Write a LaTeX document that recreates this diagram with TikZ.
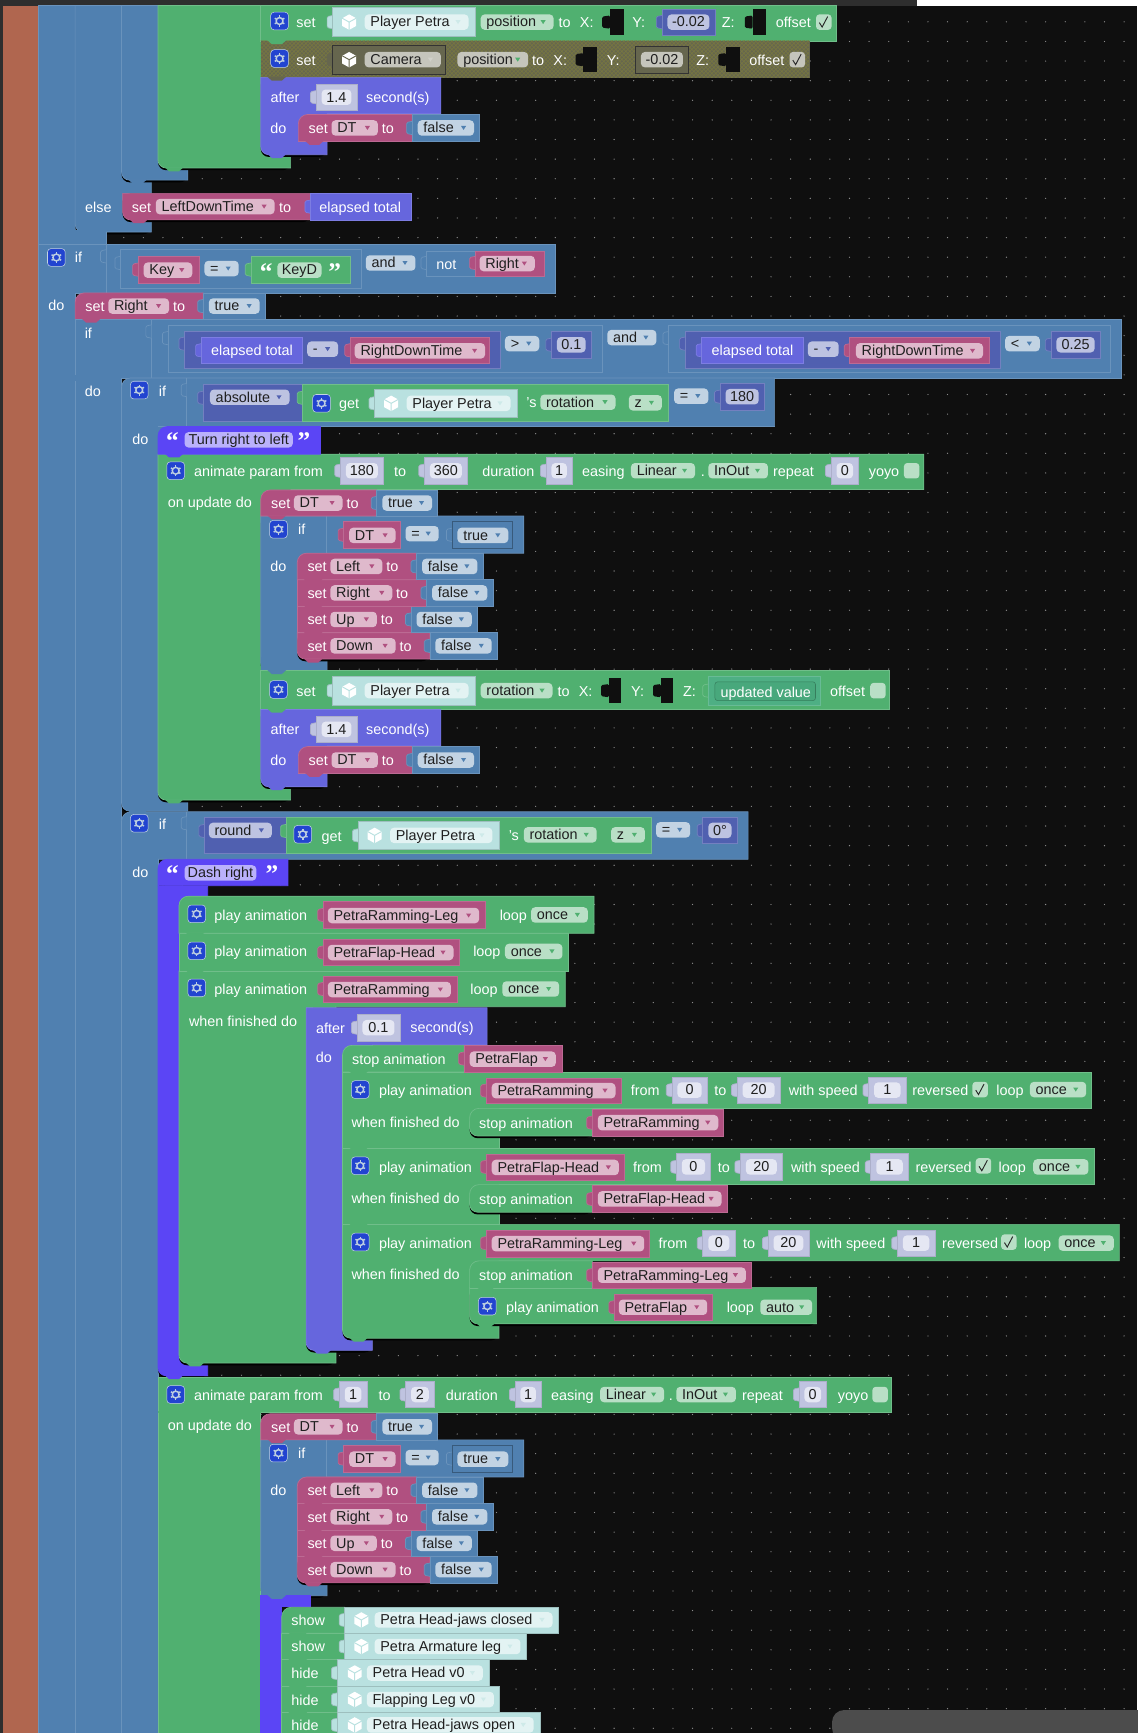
\documentclass[tikz,border=0pt]{standalone}
\usepackage{fontspec}
\setmainfont{Liberation Sans}
\newfontfamily\quotefont{Liberation Serif}
\usetikzlibrary{patterns}

\definecolor{bgblack}{HTML}{0F0F0F}
\definecolor{brickred}{HTML}{B0664F}
\definecolor{logicblue}{HTML}{5080B0}
\definecolor{loopgreen}{HTML}{50B070}
\definecolor{varpink}{HTML}{B05080}
\definecolor{timerpurple}{HTML}{6666DD}
\definecolor{noteviolet}{HTML}{5B45F5}
\definecolor{mathblue}{HTML}{5060B0}
\definecolor{objcyan}{HTML}{B9E1E0}
\definecolor{shadowlav}{HTML}{BFC3E0}
\definecolor{camolive}{HTML}{66664E}
\definecolor{gearblue}{HTML}{2244D0}

\newcommand{\blockfont}{\fontsize{10.8}{13}\selectfont}
\newcounter{nodeno}

\tikzset{
  logicb/.style={fill=logicblue,draw=logicblue!85!white,line width=.5pt},
  loopb/.style={fill=loopgreen,draw=loopgreen!82!white,line width=.5pt},
  varb/.style={fill=varpink,draw=varpink!85!white,line width=.5pt},
  timerb/.style={fill=timerpurple,draw=timerpurple!85!white,line width=.5pt},
  noteb/.style={fill=noteviolet,draw=noteviolet,line width=.5pt},
  mathb/.style={fill=mathblue,draw=mathblue!80!white,line width=.5pt},
  objb/.style={fill=objcyan,draw=objcyan!85!black,line width=.5pt},
  shadb/.style={fill=shadowlav,draw=shadowlav!90!black,line width=.5pt},
  camb/.style={fill=camolive,draw=camolive},
  logicf/.style={fill=logicblue!35!white},
  loopf/.style={fill=loopgreen!40!white},
  varf/.style={fill=varpink!40!white},
  objf/.style={fill=objcyan!40!white},
  shadf/.style={fill=shadowlav!40!white},
  mathf/.style={fill=mathblue!38!white},
  notef/.style={fill=noteviolet!42!white},
  camf/.style={fill=camolive!38!white},
  whitetxt/.style={text=white,inner sep=0pt,font=\blockfont,text height=9.2pt,text depth=1pt},
  fieldtxt/.style={text=black!88,inner sep=0pt,font=\blockfont,text height=8.6pt,text depth=1.4pt},
  gearbox/.style={fill=gearblue,draw=logicblue!35!white,line width=.4pt,rounded corners=2.5},
  gearring/.style={draw=logicblue!38!white,line width=1.1pt},
  seam/.style={draw=logicblue!85!white,line width=.5pt},
}

% blocks
\newcommand{\blk}[5]{\path[#1] (#2,#3) rectangle (#4,#5);}
\newcommand{\blktl}[5]{\path[#1] (#2,#5) [rounded corners=7] -- (#2,#3) [sharp corners] -- (#4,#3) -- (#4,#5) -- cycle;}
\newcommand{\blkbl}[5]{%
  \fill[black,rounded corners=6] (#2,#3) -- (#2,#5+2) -- (#4,#5+2) -- (#4,#3) -- cycle;
  \path[#1] (#4,#3) -- (#2,#3) [rounded corners=6] -- (#2,#5) [sharp corners] -- (#4,#5) -- cycle;}
% head x1..xr y1..ym, body x1..xb down to yb
\newcommand{\lshape}[7]{%
  \fill[black,rounded corners=6] (#2,#3) -- (#2,#7+2) -- (#6,#7+2) -- (#6,#3) -- cycle;
  \path[#1] (#2,#3) -- (#4,#3) -- (#4,#5) -- (#6,#5) -- (#6,#7) [rounded corners=6] -- (#2,#7) [sharp corners] -- cycle;}
\newcommand{\notch}[3]{\fill[#1,draw=none] (#2+6,#3-.6) -- (#2+10,#3+3) -- (#2+19,#3+3) -- (#2+23,#3-.6) -- cycle;}
\newcommand{\tabv}[3]{\path[#1,rounded corners=1] (#2,#3-6) -- (#2-5,#3-5) -- (#2-5,#3+5) -- (#2,#3+6);}
% fields and texts
\newcommand{\txt}[3]{\stepcounter{nodeno}\node[whitetxt,name=n\thenodeno] at (#1,#2) {#3};}
\newcommand{\qmark}[3]{\stepcounter{nodeno}\node[text=white,inner sep=0pt,font=\quotefont\bfseries\fontsize{19}{19}\selectfont,name=n\thenodeno] at (#1,#2+3) {#3};}
\newcommand{\fld}[6]{%
  \path[#1,rounded corners=3] (#3,#5-7) rectangle (#4,#5+7);
  \stepcounter{nodeno}\node[fieldtxt,anchor=west,name=n\thenodeno] at (#3+5,#5) {#6};
  \fill[#2] (#4-11.8,#5-1.8) -- (#4-7.2,#5-1.8) -- (#4-9.5,#5+1.8) -- cycle;}
\newcommand{\fldc}[5]{%
  \path[#1,rounded corners=3] (#2,#4-7) rectangle (#3,#4+7);
  \stepcounter{nodeno}\node[fieldtxt,name=n\thenodeno] at ({(#2+#3)/2},#4) {#5};}
\newcommand{\num}[4]{\tabv{shadb}{#1}{#3}\blk{shadb}{#1}{#3-12}{#2}{#3+12}\fldc{shadf}{#1+5}{#2-5}{#3}{#4}}
\newcommand{\numd}[4]{\tabv{mathb}{#1}{#3}\blk{mathb}{#1}{#3-12}{#2}{#3+12}\fldc{mathf}{#1+5}{#2-5}{#3}{#4}}
\newcommand{\gear}[2]{%
  \path[gearbox] (#1-8,#2-8) rectangle (#1+8,#2+8);
  \draw[gearring] (#1,#2) circle (3.1);
  \foreach \a in {30,90,...,330} \draw[gearring] ([shift={(\a:3.4)}]#1,#2) -- ([shift={(\a:5)}]#1,#2);}
\newcommand{\cube}[3]{%
  \fill[white] (#1,#2-7) -- (#1+6.3,#2-3.5) -- (#1+6.3,#2+3.5) -- (#1,#2+7) -- (#1-6.3,#2+3.5) -- (#1-6.3,#2-3.5) -- cycle;
  \draw[#3,line width=.7pt] (#1-6.3,#2-3.5) -- (#1,#2) -- (#1+6.3,#2-3.5) (#1,#2) -- (#1,#2+7);}
\newcommand{\obj}[4]{\tabv{objb}{#1}{#3}\blk{objb}{#1}{#3-13}{#2}{#3+13}\cube{#1+15}{#3}{objcyan}\fld{objf}{objcyan!70!white}{#1+29}{#2-6}{#3}{#4}}
\newcommand{\hole}[3]{\fill[bgblack,rounded corners=1] (#1+7,#3-6) -- (#1,#3-5) -- (#1,#3+5) -- (#1+7,#3+6) -- cycle;\fill[bgblack] (#1+7,#3-11.5) rectangle (#2,#3+11.5);}
\newcommand{\chk}[3]{\path[#3,rounded corners=2.5] (#1-7,#2-7) rectangle (#1+7,#2+7);}
\newcommand{\tick}[2]{\draw[black!85,line width=.7pt] (#1-4,#2+.5) -- (#1-1.5,#2+4.5) -- (#1+3.5,#2-5);}
% set VAR to BOOL: x1, x2, x3, y1, y2
\newcommand{\setvar}[8][\blk]{%
  \pgfmathsetmacro{\ymid}{(#5+#6)/2}
  #1{varb}{#2}{#5}{#3}{#6}
  \tabv{logicb}{#3}{\ymid}\blk{logicb}{#3}{#5}{#4}{#6}
  \txt{#2+18}{\ymid}{set}\fld{varf}{varpink}{#2+30}{#3-31}{\ymid}{#7}\txt{#3-22}{\ymid}{to}
  \fld{logicf}{logicblue}{#3+5}{#4-5}{\ymid}{#8}}
% the four resets below an "if DT"
\newcommand{\resetrows}[1]{%
  \setvar[\blkbl]{269}{389}{450}{#1+72}{#1+95.8}{Down}{false}
  \setvar{269}{372}{432}{#1+48}{#1+72}{Up}{false}
  \setvar{269}{386}{446}{#1+24}{#1+48}{Right}{false}
  \setvar[\blktl]{269}{377}{437}{#1}{#1+24}{Left}{false}
  \notch{varb}{269}{#1+24}\notch{varb}{269}{#1+48}\notch{varb}{269}{#1+72}\notch{varb}{269}{#1+96}}
% if DT = true
\newcommand{\ifdt}[2]{%
  \lshape{logicb}{236}{#1}{474}{#1+33.6}{296}{#2}
  \fill[logicblue] (236,#2-12) rectangle (250,#2);
  \gear{252}{#1+12}\txt{273}{#1+12}{if}
  \draw[seam] (295,#1) -- (295,#1+33.6);
  \tabv{varb}{311}{#1+17}\blk{varb}{311}{#1+5}{362}{#1+29}\fld{varf}{varpink}{316}{358}{#1+17.5}{DT}
  \fld{logicf}{logicblue}{367}{397}{#1+16}{=}
  \tabv{logicb}{409}{#1+17}\path[logicb,draw=logicblue!70!black] (409,#1+5) rectangle (464,#1+29);\fld{logicf}{logicblue}{414}{460}{#1+17.5}{true}
  \txt{252}{#1+45}{do}}
% after N second(s) do set DT to false
\newcommand{\afterdt}[1]{%
  \lshape{timerb}{236}{#1}{399}{#1+33}{296}{#1+70}
  \txt{258}{#1+18}{after}\num{286}{323}{#1+18}{1.4}\txt{360}{#1+18}{second(s)}\txt{252}{#1+46}{do}
  \setvar[\blktl]{270}{373}{434}{#1+33.6}{#1+58}{DT}{false}
  \notch{varb}{270}{#1+58}\notch{timerb}{236}{#1+70}}

\begin{document}
\begin{tikzpicture}[x=0.829pt,y=0.829pt,yscale=-1,xscale=1]
\useasboundingbox (0,0) rectangle (1029,1568.3);
\fill[bgblack] (0,0) rectangle (1029,1568.3);
\foreach \i in {0,...,57} \foreach \j in {0,...,88}
  \fill[white!55!black] ({5.5+17.75*\i},{2+17.75*\j}) circle (.6);
\fill[black!82] (0,0) rectangle (830,5);
\fill[white] (830,0) rectangle (1029,5);
\fill[black!82] (0,5) rectangle (3,1568.3);
\fill[brickred] (3,5) rectangle (35,1568.3);

% outer columns
\blk{logicb}{35}{5}{68}{1568.3}
\blkbl{logicb}{68}{5}{137}{210}
\blk{logicb}{68}{212}{96}{222}
\fill[logicblue] (68.3,208) rectangle (96,222);
\blk{logicb}{68}{289}{110}{1568.3}
\blkbl{logicb}{110}{5}{170}{163}
\blkbl{loopb}{143}{5}{263}{152}
\notch{logicb}{110}{163}\notch{logicb}{68}{210}\notch{loopb}{143}{152}

% set position rows
\fill[mathblue] (249,5) -- (253,8) -- (261,8) -- (265,5) -- cycle;
\blk{loopb}{236}{5}{757}{37}
\gear{253}{19}\txt{277}{20}{set}
\obj{301}{430}{20}{Player Petra}
\fld{loopf}{loopgreen}{435}{501}{20}{position}
\txt{511}{20}{to}\txt{531}{20}{X:}\hole{545}{565}{20}
\txt{578}{20}{Y:}\numd{599}{647}{20}{-0.02}
\txt{659}{20}{Z:}\hole{674}{693}{20}
\txt{718}{20}{offset}\chk{745.5}{20}{loopf}\tick{745.5}{20}

\blk{camb}{236}{37}{732}{70}
\path[pattern=crosshatch,pattern color=yellow!30!black!75] (236,37) rectangle (732,70);
\notch{loopb}{236}{37}
\gear{253}{53}\txt{277}{54}{set}
\tabv{camb}{301}{54}\path[draw=black!80,fill=camolive] (301,41) rectangle (403,67);
\cube{316}{54}{camolive}\fld{camf}{camolive!30!white}{330}{399}{54}{Camera}
\fld{camf}{loopgreen}{414}{478}{54}{position}
\txt{487}{54}{to}\txt{507}{54}{X:}\hole{521}{540}{54}
\txt{555}{54}{Y:}\path[draw=black!80,fill=camolive] (575,42) rectangle (623,66);\fldc{camf}{580}{618}{54}{-0.02}
\txt{636}{54}{Z:}\hole{650}{670}{54}
\txt{694}{54}{offset}\chk{721.5}{54}{camf}\tick{721.5}{54}
\afterdt{70}
\notch{camb}{236}{70}

% else
\txt{89}{187}{else}
\blkbl{varb}{111}{175}{281}{199}
\txt{128}{187}{set}\fld{varf}{varpink}{141}{248.5}{187}{LeftDownTime}\txt{258}{187}{to}
\tabv{timerb}{281}{187}\blk{timerb}{281}{175}{372}{199}\txt{326}{187}{elapsed total}
\notch{varb}{111}{199}

% if key D
\blk{logicb}{35}{221}{503}{265}
\fill[logicblue] (35.3,262) rectangle (67.7,268);
\gear{51}{233}\txt{71}{233}{if}
\draw[seam] (96,210) -- (96,265);
\tabv{logicb}{96}{232}
\tabv{logicb}{109}{238}\blk{logicb}{109}{226}{327}{261}
\tabv{varb}{125}{244}\blk{varb}{125}{232}{180}{256}\fld{varf}{varpink}{130}{174}{244.5}{Key}
\fld{logicf}{logicblue}{185}{216}{243}{=}
\tabv{loopb}{227}{244}\blk{loopb}{227}{232}{317}{256}\qmark{241}{243}{“}\fldc{loopf}{251}{291}{244.5}{KeyD}\qmark{303}{243}{”}
\fld{logicf}{logicblue}{331}{376}{238}{and}
\tabv{logicb}{386}{238}\blk{logicb}{386}{227}{430}{250}\txt{404}{239}{not}
\tabv{varb}{430}{238}\blk{varb}{430}{227}{493}{250}\fld{varf}{varpink}{434}{484}{238.5}{Right}

\txt{51}{276}{do}
\setvar[\blktl]{68}{184}{240}{265}{289}{Right}{true}

% if else time check
\blk{logicb}{68}{289}{1015}{342}
\fill[logicblue] (68.3,339) rectangle (109.7,345);
\notch{varb}{68}{289}
\txt{80}{301}{if}
\draw[seam] (137,289) -- (137,342);
\tabv{logicb}{137}{300}
\tabv{logicb}{152}{306}\blk{logicb}{152}{294}{545}{337}
\tabv{mathb}{167}{311}\blk{mathb}{167}{299.5}{453}{333}
\tabv{timerb}{182}{317}\blk{timerb}{182}{305}{274}{329}\txt{228}{317}{elapsed total}
\fld{mathf}{mathblue}{278}{306}{316}{-}
\tabv{varb}{317}{317}\blk{varb}{317}{305}{443}{329}\fld{varf}{varpink}{321}{439}{317.5}{RightDownTime}
\fld{logicf}{logicblue}{457}{488}{311}{>}
\numd{499}{535}{312}{0.1}
\fld{logicf}{logicblue}{549.6}{594}{305.5}{and}
\tabv{logicb}{605}{306}\blk{logicb}{605}{294}{1004.6}{337}
\tabv{mathb}{620}{311}\blk{mathb}{620}{299.5}{905}{333}
\tabv{timerb}{635}{317}\blk{timerb}{635}{305}{727}{329}\txt{681}{317}{elapsed total}
\fld{mathf}{mathblue}{731}{759}{316}{-}
\tabv{varb}{769}{317}\blk{varb}{769}{305}{895}{329}\fld{varf}{varpink}{774.6}{889.6}{317.5}{RightDownTime}
\fld{logicf}{logicblue}{909.6}{941}{311}{<}
\numd{951}{995.6}{312}{0.25}

\txt{84}{354}{do}
\blkbl{logicb}{110}{350}{170}{734}
\blktl{logicb}{110}{342}{701}{386}
\fill[logicblue] (110.3,383) rectangle (142.7,389);
\gear{126}{353}\txt{147}{354}{if}
\draw[seam] (169,342) -- (169,386);
\tabv{logicb}{169}{353}
\tabv{mathb}{184}{360}\blk{mathb}{184}{347.5}{274}{381}\fld{mathf}{mathblue}{190}{262}{359.5}{absolute}
\tabv{loopb}{274}{360}\blk{loopb}{274}{347.5}{605}{381}
\gear{291}{365}\txt{316}{365}{get}\obj{339}{468}{365}{Player Petra}\txt{481}{364}{'s}
\fld{loopf}{loopgreen}{489}{557}{364}{rotation}\fld{loopf}{loopgreen}{569}{599}{364.5}{z}
\fld{logicf}{logicblue}{610}{641}{358.5}{=}
\numd{651.6}{691.6}{359}{180}

% turn right to left
\txt{127}{397}{do}
\lshape{loopb}{143}{411}{836}{443}{263}{724}
\blktl{noteb}{143}{386}{290}{411}
\qmark{156}{396}{“}\fldc{notef}{167}{265}{398}{Turn right to left}\qmark{275}{396}{”}
\notch{noteb}{143}{411}
\gear{159}{426}\txt{234}{426}{animate param from}
\num{308}{347}{426}{180}\txt{362}{426}{to}\num{384}{423}{426}{360}\txt{460}{426}{duration}\num{494}{518}{426}{1}
\txt{546}{426}{easing}\fld{loopf}{loopgreen}{571}{629}{426}{Linear}\txt{636}{426}{.}\fld{loopf}{loopgreen}{641}{695}{426}{InOut}
\txt{718}{426}{repeat}\num{752}{777}{426}{0}\txt{800}{426}{yoyo}\chk{825}{426}{loopf}
\txt{190}{454}{on update do}
\ifdt{467}{607}
\setvar[\blktl]{236}{341}{396}{443.4}{467}{DT}{true}
\notch{varb}{236}{467}
\resetrows{500.6}
\blk{loopb}{236}{607}{805}{642}
\notch{logicb}{236}{607}
\gear{252}{624}\txt{277}{625}{set}\obj{301}{430}{625}{Player Petra}
\fld{loopf}{loopgreen}{435}{500}{625}{rotation}\txt{510}{625}{to}\txt{530}{625}{X:}\hole{544}{562}{625}\txt{577}{625}{Y:}\hole{591}{609}{625}\txt{624}{625}{Z:}
\definecolor{updatedfill}{HTML}{4EAF84}\definecolor{updatedfield}{HTML}{48A87C}
\tabv{loopb}{641}{625}\path[fill=updatedfill,draw=updatedfill!85!white,line width=.5pt] (641,612) rectangle (742,638);\path[fill=updatedfield,draw=updatedfield!75!black,line width=.4pt,rounded corners=2] (647,617) rectangle (738,634);\txt{693}{626}{updated value}
\txt{767}{625}{offset}\chk{794.5}{625}{loopf}
\afterdt{642}
\notch{loopb}{236}{642}\notch{loopb}{143}{724}\notch{logicb}{110}{734}

% dash right
\blk{logicb}{110}{760}{143}{1568.3}
\blktl{logicb}{110}{734.6}{677}{777.6}
\fill[logicblue] (110.3,775) rectangle (142.7,780);
\notch{logicb}{110}{734}
\gear{126}{745}\txt{147}{746}{if}
\draw[seam] (169,734.6) -- (169,777.6);
\tabv{logicb}{169}{745}
\tabv{mathb}{185}{752}\blk{mathb}{185}{739.6}{259}{772}\fld{mathf}{mathblue}{189}{246}{751.5}{round}
\tabv{loopb}{259}{752}\blk{loopb}{259}{739.6}{589}{772}
\gear{274}{755}\txt{300}{757}{get}\obj{324}{451.6}{756}{Player Petra}\txt{465}{756}{'s}
\fld{loopf}{loopgreen}{474}{540}{755.5}{rotation}\fld{loopf}{loopgreen}{553}{583.6}{755.5}{z}
\fld{logicf}{logicblue}{593.7}{624.6}{751}{=}
\numd{636}{667}{751.5}{0°}
\txt{127}{789}{do}
\blkbl{noteb}{143}{802}{188}{1245}
\blktl{noteb}{143}{777.6}{260.6}{801.5}
\qmark{156}{788}{“}\fldc{notef}{167}{232}{790}{Dash right}\qmark{246}{788}{”}
\notch{noteb}{143}{802}

% play animation rows
\lshape{loopb}{162}{878.6}{511.6}{911}{304}{1233.5}
\blk{loopb}{162}{844.6}{514}{878.6}
\blktl{loopb}{162}{811}{537.6}{844.6}
\gear{178}{827}\txt{236}{828}{play animation}
\tabv{varb}{292.6}{828}\blk{varb}{292.6}{816}{439.6}{840}\fld{varf}{varpink}{296.6}{433.6}{828.5}{PetraRamming-Leg}
\txt{464.6}{828}{loop}\fld{loopf}{loopgreen}{480.6}{532}{828}{once}
\gear{178}{860.5}\txt{236}{861}{play animation}
\tabv{varb}{292.6}{862}\blk{varb}{292.6}{850}{416}{874}\fld{varf}{varpink}{296.6}{410.4}{862}{PetraFlap-Head}
\txt{440.6}{861}{loop}\fld{loopf}{loopgreen}{457}{509}{861}{once}
\gear{178}{894}\txt{236}{895}{play animation}
\tabv{varb}{292.6}{895}\blk{varb}{292.6}{883.5}{413.6}{907.5}\fld{varf}{varpink}{296.6}{408}{895.5}{PetraRamming}
\txt{438}{895}{loop}\fld{loopf}{loopgreen}{454.6}{506}{895}{once}
\notch{loopb}{162}{844.6}\notch{loopb}{162}{878.6}
\txt{220}{924}{when finished do}

% after 0.1 second(s)
\lshape{timerb}{277}{912}{440.8}{945.6}{337}{1222}
\txt{299}{930}{after}\num{323}{362}{930}{0.1}\txt{400}{929}{second(s)}
\txt{293}{957}{do}

% play animation with range
\lshape{loopb}{310}{1108}{1013}{1141}{451.5}{1211}
\blk{loopb}{310}{1072}{451.5}{1108}
\blk{loopb}{310}{1039}{990}{1072}
\fill[loopgreen] (310.3,1071) rectangle (451.2,1073);
\blk{loopb}{310}{1003}{451.5}{1039}
\blk{loopb}{310}{970}{988}{1003}
\fill[loopgreen] (310.3,1002) rectangle (451.2,1004);
\blktl{loopb}{310}{946}{420}{970}
\txt{361}{958}{stop animation}
\tabv{varb}{420}{958}\blk{varb}{420}{946}{509}{970}\fld{varf}{varpink}{425}{503}{958.5}{PetraFlap}
\notch{loopb}{310}{970}\notch{loopb}{310}{1039}\notch{loopb}{310}{1108}

\gear{326}{986}\txt{385}{986}{play animation}
\tabv{varb}{440}{987}\blk{varb}{440}{975.5}{562}{998.5}\fld{varf}{varpink}{445}{557}{987}{PetraRamming}
\txt{584}{986}{from}\num{608}{640}{986.5}{0}\txt{652}{986}{to}\num{667}{706}{986.5}{20}\txt{745}{986}{with speed}\num{786}{820}{986.5}{1}
\txt{851}{986}{reversed}\chk{887}{986}{loopf}\tick{887}{986}\txt{914}{986}{loop}\fld{loopf}{loopgreen}{932}{983}{986}{once}
\txt{367}{1015}{when finished do}
\blkbl{loopb}{425}{1015}{536}{1028}
\blktl{loopb}{425}{1003}{536}{1020}
\fill[loopgreen] (425.3,1014) rectangle (535,1021);
\txt{476}{1016}{stop animation}
\tabv{varb}{536}{1016}\blk{varb}{536}{1004}{655}{1028}\fld{varf}{varpink}{541}{650}{1016}{PetraRamming}

\gear{326}{1055}\txt{385}{1056}{play animation}
\tabv{varb}{440}{1056}\blk{varb}{440}{1044.5}{565}{1068.5}\fld{varf}{varpink}{445}{560}{1056.5}{PetraFlap-Head}
\txt{586}{1056}{from}\num{612}{643}{1056}{0}\txt{655}{1056}{to}\num{670}{708}{1056}{20}\txt{747}{1056}{with speed}\num{788}{822}{1056}{1}
\txt{854}{1056}{reversed}\chk{890}{1055}{loopf}\tick{890}{1055}\txt{916}{1056}{loop}\fld{loopf}{loopgreen}{935}{985}{1056}{once}
\txt{367}{1084}{when finished do}
\blkbl{loopb}{425}{1084}{536}{1097}
\blktl{loopb}{425}{1072}{536}{1089}
\fill[loopgreen] (425.3,1083) rectangle (535,1090);
\txt{476}{1085}{stop animation}
\tabv{varb}{536}{1085}\blk{varb}{536}{1073}{658}{1097}\fld{varf}{varpink}{541}{653}{1085}{PetraFlap-Head}

\gear{326}{1124}\txt{385}{1125}{play animation}
\tabv{varb}{440}{1125}\blk{varb}{440}{1113.5}{588}{1137.5}\fld{varf}{varpink}{445}{583}{1125.5}{PetraRamming-Leg}
\txt{609}{1125}{from}\num{636}{665}{1125}{0}\txt{678}{1125}{to}\num{695}{732}{1125}{20}\txt{770}{1125}{with speed}\num{812}{846}{1125}{1}
\txt{878}{1125}{reversed}\chk{913}{1124}{loopf}\tick{913}{1124}\txt{939}{1125}{loop}\fld{loopf}{loopgreen}{958}{1008}{1125}{once}
\txt{367}{1153}{when finished do}
\blkbl{loopb}{425}{1165}{739}{1198}
\blktl{loopb}{425}{1141}{536}{1166}
\txt{476}{1154}{stop animation}
\tabv{varb}{536}{1154}\blk{varb}{536}{1142}{680}{1166}\fld{varf}{varpink}{541}{675}{1154}{PetraRamming-Leg}
\notch{loopb}{425}{1165}
\gear{441}{1182}\txt{500}{1183}{play animation}
\tabv{varb}{556}{1183}\blk{varb}{556}{1171}{645}{1195}\fld{varf}{varpink}{560}{640}{1183}{PetraFlap}
\txt{670}{1183}{loop}\fld{loopf}{loopgreen}{688}{735}{1183}{auto}
\notch{loopb}{425}{1198}\notch{loopb}{310}{1211}\notch{timerb}{277}{1222}\notch{loopb}{162}{1233.5}

% second animate
\blk{loopb}{143}{1278}{236}{1568.3}
\blk{loopb}{143}{1246}{807}{1278}
\fill[loopgreen] (143.3,1277) rectangle (236,1279);
\notch{noteb}{143}{1245}
\gear{159}{1262}\txt{234}{1262}{animate param from}
\num{307}{332}{1262}{1}\txt{348}{1262}{to}\num{367}{393}{1262}{2}\txt{427}{1262}{duration}\num{466}{490}{1262}{1}
\txt{518}{1262}{easing}\fld{loopf}{loopgreen}{543}{601}{1262}{Linear}\txt{607}{1262}{.}\fld{loopf}{loopgreen}{612}{666}{1262}{InOut}
\txt{690}{1262}{repeat}\num{723}{748}{1262}{0}\txt{772}{1262}{yoyo}\chk{796.5}{1262}{loopf}
\txt{190}{1290}{on update do}
\ifdt{1303}{1444}
\setvar[\blktl]{236}{341}{396}{1279.4}{1303}{DT}{true}
\notch{varb}{236}{1303}
\resetrows{1336.6}

% show and hide
\blk{noteb}{236}{1444}{255}{1568.3}
\blk{noteb}{236}{1444}{281}{1454}
\notch{logicb}{236}{1444}
\blk{loopb}{255}{1550}{305}{1568.3}
\blk{loopb}{255}{1526}{305}{1550}
\blk{loopb}{255}{1502}{305}{1526}
\blk{loopb}{255}{1478}{312}{1502}
\blktl{loopb}{255}{1454.5}{312}{1478}
\notch{loopb}{255}{1478}\notch{loopb}{255}{1502}\notch{loopb}{255}{1526}\notch{loopb}{255}{1550}
\txt{279}{1466}{show}\txt{279}{1490}{show}\txt{276}{1514}{hide}\txt{276}{1538}{hide}\txt{276}{1561}{hide}
\tabv{objb}{312}{1466}\blk{objb}{312}{1454.5}{505}{1478}\cube{327}{1466}{objcyan}\fld{objf}{objcyan!70!white}{339}{500}{1466}{Petra Head-jaws closed}
\tabv{objb}{312}{1490}\blk{objb}{312}{1478}{476}{1502}\cube{327}{1490}{objcyan}\fld{objf}{objcyan!70!white}{339}{471}{1490}{Petra Armature leg}
\tabv{objb}{305}{1514}\blk{objb}{305}{1502}{443}{1526}\cube{321}{1514}{objcyan}\fld{objf}{objcyan!70!white}{332}{437}{1514}{Petra Head v0}
\tabv{objb}{305}{1538}\blk{objb}{305}{1526}{452}{1550}\cube{321}{1538}{objcyan}\fld{objf}{objcyan!70!white}{332}{447}{1538}{Flapping Leg v0}
\tabv{objb}{305}{1561}\blk{objb}{305}{1550}{489}{1568.3}\cube{321}{1561}{objcyan}\fld{objf}{objcyan!70!white}{332}{483}{1561}{Petra Head-jaws open}

% scroll bar
\fill[black!70,rounded corners=9] (753,1547.5) -- (1040,1547.5) -- (1040,1575) -- (753,1575) -- cycle;
\end{tikzpicture}
\end{document}
